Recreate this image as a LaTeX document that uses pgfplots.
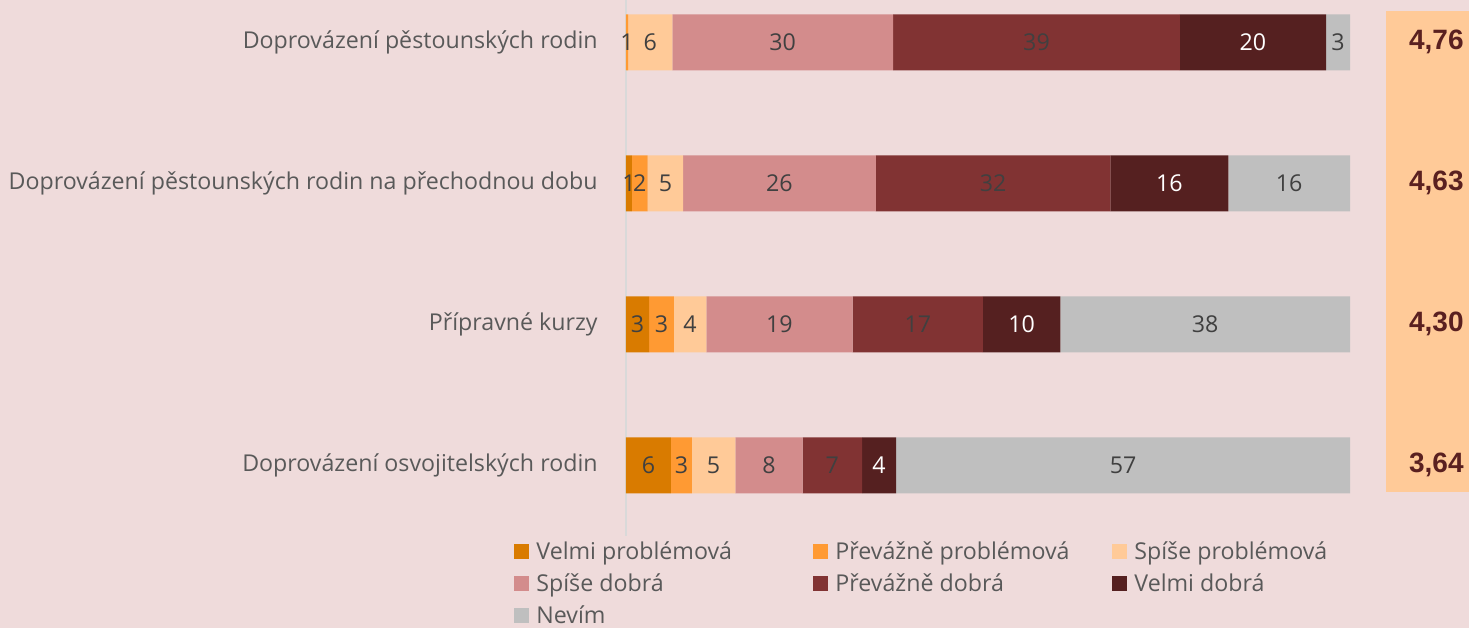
\documentclass[border=0pt]{standalone}
\usepackage{fontspec}
\setmainfont{Open Sans}
\newfontfamily\arialf{Liberation Sans}
\usepackage{pgfplots}
\usepackage{pgfplotstable}
\pgfplotsset{compat=1.18}

\definecolor{bgc}{HTML}{EFDBDB}
\definecolor{cVP}{HTML}{D97B00}
\definecolor{cPP}{HTML}{FF9A33}
\definecolor{cSP}{HTML}{FFCA98}
\definecolor{cSD}{HTML}{D38C8C}
\definecolor{cPD}{HTML}{813333}
\definecolor{cVD}{HTML}{552020}
\definecolor{cNE}{HTML}{BFBFBF}
\definecolor{txt}{HTML}{595959}
\definecolor{lbl}{HTML}{404040}
\definecolor{scorec}{HTML}{5A2020}
\definecolor{axc}{HTML}{D9D9D9}

% share of answers (bar width, %) and the printed count
\pgfplotstableread{
y vp  vpL pp  ppL sp  spL sd   sdL pd   pdL vd   vdL ne   neL
0 0.0 {}  0.3 1   6.1 6   30.5 30  39.6 39  20.2 20  3.3  3
1 0.8 1   2.2 2   4.9 5   26.6 26  32.4 32  16.3 16  16.8 16
2 3.2 3   3.4 3   4.5 4   20.2 19  18.0 17  10.7 10  40.0 38
3 6.2 6   2.9 3   6.0 5   9.3  8   8.2  7   4.7  4   62.7 57
}\data

\pgfplotsset{
  seg/.style n args={3}{fill=#1, draw=none,
    every node near coord/.append style={text=#3}},
}

\begin{document}
\begin{tikzpicture}
\useasboundingbox (0,0) rectangle (734.5pt,-314pt);
\fill[bgc] (0,0) rectangle (734.5pt,-314pt);
\clip (0,0) rectangle (734.5pt,-314pt);
% average score column
\fill[cSP] (693pt,-5.5pt) rectangle (740pt,-246pt);
\begin{axis}[
  at={(313pt,0pt)}, anchor=north west,
  scale only axis,
  width=362pt, height=267.9pt,
  xbar stacked, bar width=28pt,
  xmin=0, xmax=100,
  ymin=-0.3, ymax=3.5, y dir=reverse,
  axis x line=none,
  axis y line*=left,
  y axis line style={draw=axc, line width=0.6pt},
  major tick length=0pt,
  ytick={0,1,2,3},
  yticklabels={Doprovázení pěstounských rodin,
    Doprovázení pěstounských rodin na přechodnou dobu,
    Přípravné kurzy,
    Doprovázení osvojitelských rodin},
  yticklabel style={font=\fontsize{11.6}{13}\selectfont, text=txt, inner sep=0pt, xshift=-14pt},
  clip=false,
  point meta=explicit symbolic,
  nodes near coords,
  nodes near coords align=center,
  every node near coord/.append style={anchor=center,
      font=\fontsize{11.6}{13}\selectfont, inner sep=0pt},
  legend columns=3,
  legend style={draw=none, fill=none, at={(axis description cs:-0.1547,-0.006)},
    anchor=north west, inner sep=0pt, row sep=3.6pt,
    font=\fontsize{11.6}{13}\selectfont, text=txt,
    nodes={inner xsep=3.5pt, inner ysep=1pt}},
  legend cell align=left,
  legend image code/.code={\fill[#1] (0pt,-3.75pt) rectangle (7.5pt,3.75pt);},
]
\addplot[seg={cVP}{vp}{lbl}] table[x=vp, y=y, meta=vpL] {\data};
\addlegendentry{\makebox[135pt][l]{Velmi problémová}}
\addplot[seg={cPP}{pp}{lbl}] table[x=pp, y=y, meta=ppL] {\data};
\addlegendentry{\makebox[135pt][l]{Převážně problémová}}
\addplot[seg={cSP}{sp}{lbl}] table[x=sp, y=y, meta=spL] {\data};
\addlegendentry{Spíše problémová}
\addplot[seg={cSD}{sd}{lbl}] table[x=sd, y=y, meta=sdL] {\data};
\addlegendentry{Spíše dobrá}
\addplot[seg={cPD}{pd}{lbl}] table[x=pd, y=y, meta=pdL] {\data};
\addlegendentry{Převážně dobrá}
\addplot[seg={cVD}{vd}{white}] table[x=vd, y=y, meta=vdL] {\data};
\addlegendentry{Velmi dobrá}
\addplot[seg={cNE}{ne}{lbl}] table[x=ne, y=y, meta=neL] {\data};
\addlegendentry{Nevím}
\end{axis}
\begin{scope}[every node/.style={anchor=east, inner sep=0pt, text=scorec,
    font=\arialf\bfseries\fontsize{14}{16}\selectfont}]
\node at (732pt,-21pt) {4,76};
\node at (732pt,-91.5pt) {4,63};
\node at (732pt,-162pt) {4,30};
\node at (732pt,-232.5pt) {3,64};
\end{scope}
\end{tikzpicture}
\end{document}
